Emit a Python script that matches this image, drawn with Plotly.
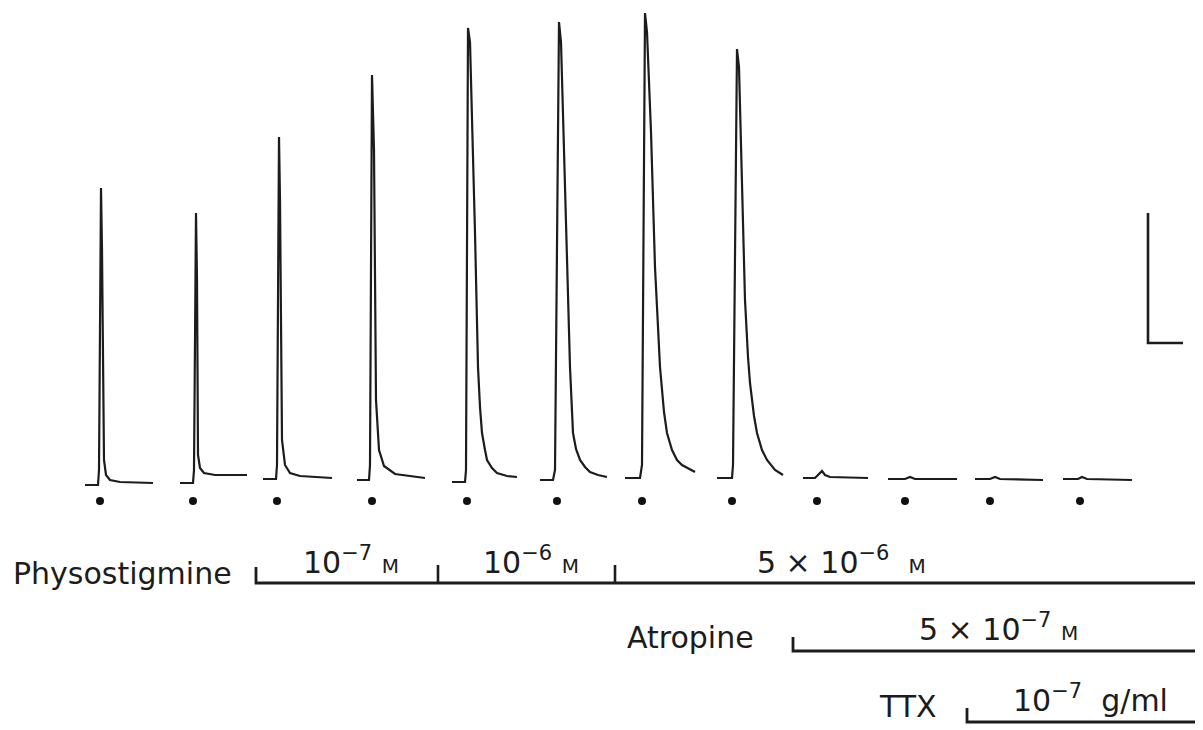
import plotly.graph_objects as go

# ---- Data (time in arbitrary units, amplitude in arbitrary units, baseline = 0)
t1 = [85, 98, 99, 101, 102, 104, 106, 110, 120, 153]
a1 = [-3, -3, 12, 294, 232, 22, 7, 2, 0, -1]
t2 = [180, 193, 194, 196, 197, 198, 200, 204, 215, 247]
a2 = [-1, -1, 12, 269, 202, 27, 14, 9, 7, 7]
t3 = [263, 276, 277, 279, 280, 282, 285, 290, 300, 332]
a3 = [3, 3, 17, 345, 282, 42, 17, 9, 6, 4]
t4 = [357, 369, 370, 372, 374, 376, 379, 384, 395, 425]
a4 = [2, 2, 17, 407, 332, 82, 32, 16, 8, 4]
t5 = [452, 465, 466, 468, 470, 473, 475, 477, 478, 480, 482, 485, 487, 492, 497, 507, 517]
a5 = [0, 0, 12, 454, 440, 332, 249, 160, 115, 75, 49, 32, 22, 14, 9, 6, 5]
t6 = [540, 553, 555, 559, 561, 564, 567, 569, 570, 573, 576, 580, 585, 590, 598, 607]
a6 = [2, 2, 12, 460, 440, 330, 215, 150, 115, 49, 33, 22, 15, 10, 7, 5]
t7 = [625, 640, 642, 645, 647, 651, 655, 658, 660, 664, 667, 672, 677, 682, 687, 695]
a7 = [4, 4, 17, 469, 450, 350, 215, 150, 115, 70, 49, 32, 22, 17, 14, 10]
t8 = [717, 732, 733, 737, 739, 742, 745, 748, 750, 754, 757, 762, 767, 775, 783]
a8 = [4, 4, 17, 433, 415, 300, 182, 125, 99, 66, 49, 32, 22, 12, 7]
t9 = [803, 815, 819, 822, 825, 830, 868]
a9 = [4, 4, 8, 11, 7, 5, 4]
t10 = [888, 905, 910, 915, 957]
a10 = [3, 3, 5, 3, 3]
t11 = [975, 990, 995, 1000, 1043]
a11 = [3, 3, 5, 3, 2]
t12 = [1063, 1078, 1082, 1087, 1132]
a12 = [3, 3, 5, 3, 2]

responses_t = [t1, t2, t3, t4, t5, t6, t7, t8, t9, t10, t11, t12]
responses_a = [a1, a2, a3, a4, a5, a6, a7, a8, a9, a10, a11, a12]

# stimulus times (dots)
stim_times = [100, 193, 277, 372, 467, 557, 642, 732, 817, 905, 990, 1080]

# drug application periods
physo_start = 256
physo_changes = [438, 615]
physo_labels = ["10<sup>−7</sup> <span style='font-size:20px'>M</span>",
                "10<sup>−6</sup> <span style='font-size:20px'>M</span>",
                "5 × 10<sup>−6</sup>  <span style='font-size:20px'>M</span>"]
atropine_start = 793
atropine_label = "5 × 10<sup>−7</sup> <span style='font-size:20px'>M</span>"
ttx_start = 967
ttx_label = "10<sup>−7</sup>  g/ml"
record_end = 1198

# calibration bar
cal_t = 1148
cal_dt = 35
cal_a0 = 139
cal_da = 130

# ---- layout levels (amplitude units)
STIM_Y = -19
PHYSO_Y, PHYSO_TICK = -101, -85
ATRO_Y, ATRO_TICK = -169, -155
TTX_Y, TTX_TICK = -240, -226

INK = "#1c1c1c"
FONT = "DejaVu Sans"

fig = go.Figure()

for tt, aa in zip(responses_t, responses_a):
    fig.add_trace(go.Scatter(x=tt, y=aa, mode="lines",
                             line=dict(color=INK, width=2.2),
                             hoverinfo="skip", showlegend=False))

fig.add_trace(go.Scatter(x=stim_times, y=[STIM_Y] * len(stim_times), mode="markers",
                         marker=dict(color="#111111", size=8),
                         hoverinfo="skip", showlegend=False))

def bracket(start, level, tick_top, ticks=()):
    xs = [start, start, record_end]
    ys = [tick_top, level, level]
    fig.add_trace(go.Scatter(x=xs, y=ys, mode="lines",
                             line=dict(color=INK, width=2.8),
                             hoverinfo="skip", showlegend=False))
    for tk in ticks:
        fig.add_trace(go.Scatter(x=[tk, tk], y=[tick_top + 2, level], mode="lines",
                                 line=dict(color=INK, width=2.6),
                                 hoverinfo="skip", showlegend=False))

bracket(physo_start, PHYSO_Y, PHYSO_TICK, physo_changes)
bracket(atropine_start, ATRO_Y, ATRO_TICK)
bracket(ttx_start, TTX_Y, TTX_TICK)

# calibration bar
fig.add_trace(go.Scatter(x=[cal_t, cal_t, cal_t + cal_dt],
                         y=[cal_a0 + cal_da, cal_a0, cal_a0], mode="lines",
                         line=dict(color=INK, width=2.6),
                         hoverinfo="skip", showlegend=False))

def label(x, y, text, size=30, anchor="center"):
    fig.add_annotation(x=x, y=y, text=text, showarrow=False, xanchor=anchor,
                       yanchor="middle", font=dict(family=FONT, size=size, color=INK))

label(11, -91, "Physostigmine", size=30, anchor="left")
label_centres = [351, 531, 841]
for cx, txt in zip(label_centres, physo_labels):
    label(cx, -78, txt, size=30)
label(690, -155, "Atropine", size=30)
label(998, -145, atropine_label, size=30)
label(908, -224, "TTX", size=30)
label(1090, -216, ttx_label, size=30)

# the page body adds an 8 px offset; the figure covers the remaining viewport
fig.update_layout(
    width=1195, height=722,
    margin=dict(l=0, r=0, t=0, b=0),
    paper_bgcolor="white", plot_bgcolor="white",
    xaxis=dict(range=[8, 1203], visible=False, fixedrange=True),
    yaxis=dict(range=[-248, 474], visible=False, fixedrange=True),
    showlegend=False,
)

fig.write_html("out.html")
